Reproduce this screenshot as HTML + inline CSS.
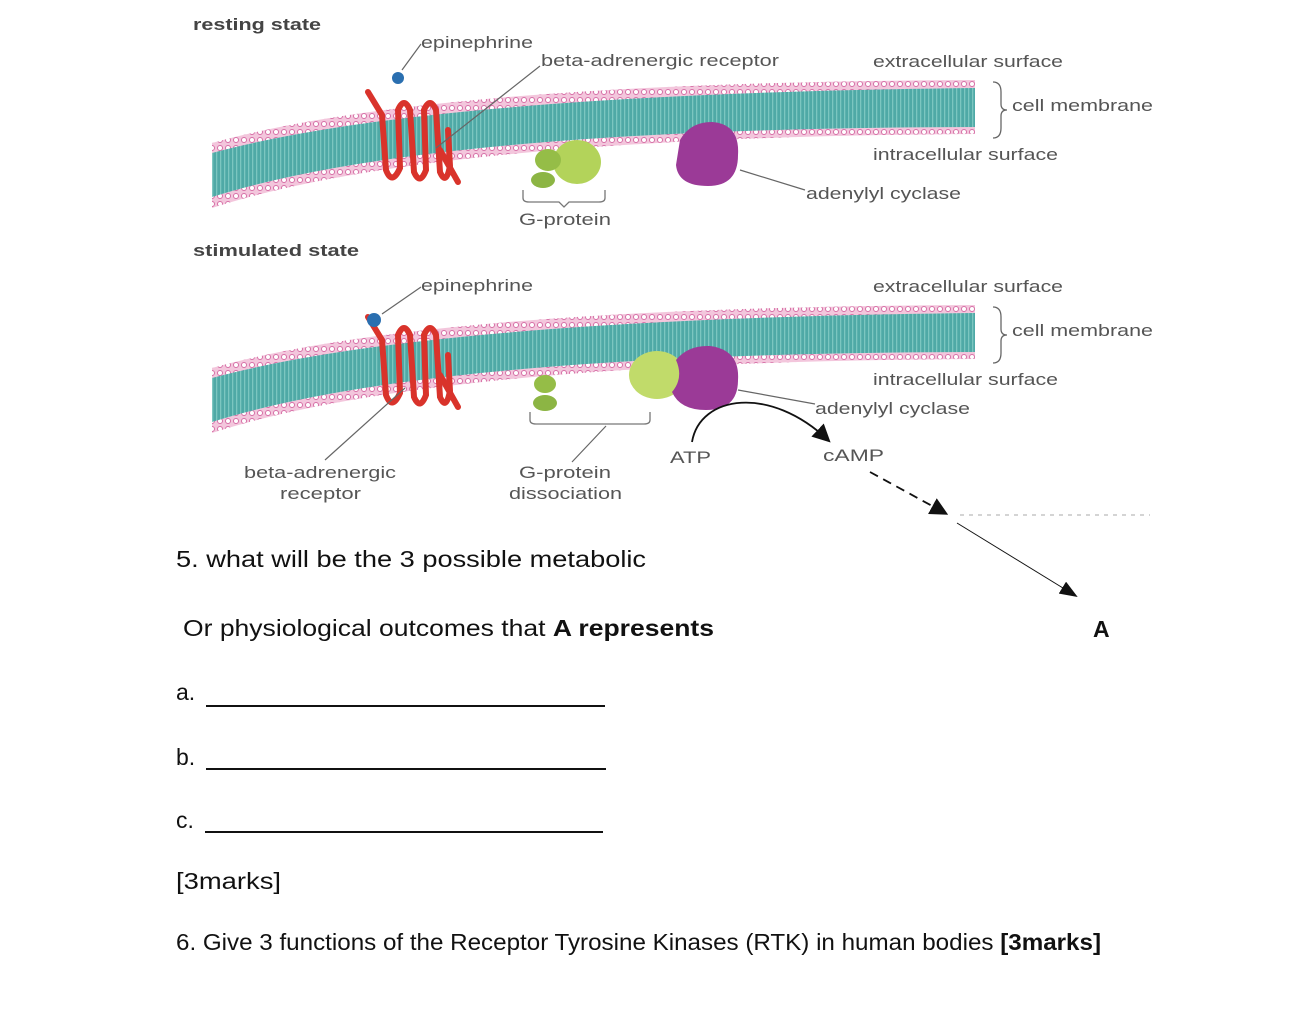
<!DOCTYPE html>
<html><head><meta charset="utf-8"><style>
html,body{margin:0;padding:0;background:#fff;width:1308px;height:1024px;overflow:hidden}
svg{display:block}
.d{font-family:"Liberation Sans",sans-serif;font-size:17px;fill:#555}
.b{font-family:"Liberation Sans",sans-serif;font-size:17px;font-weight:bold;fill:#444}
.q{font-family:"Liberation Sans",sans-serif;font-size:23px;fill:#111}
</style></head><body>
<svg width="1308" height="1024" viewBox="0 0 1308 1024" xmlns="http://www.w3.org/2000/svg">
<defs>
<pattern id="dots" width="8" height="8" patternUnits="userSpaceOnUse"><rect width="8" height="8" fill="#f3c6dc"/><circle cx="4" cy="4" r="2.5" fill="#fff" stroke="#d66fa6" stroke-width="1"/></pattern>
<pattern id="tails" width="4" height="10" patternUnits="userSpaceOnUse"><rect width="4" height="10" fill="#4fa9a6"/><rect width="1.3" height="10" fill="#7cc6c0"/></pattern>
<marker id="ah" markerWidth="10" markerHeight="10" refX="8" refY="5" orient="auto"><path d="M0,0 L10,5 L0,10 z" fill="#111"/></marker>
<marker id="ah2" markerWidth="18" markerHeight="14" refX="16" refY="7" orient="auto" markerUnits="userSpaceOnUse"><path d="M0,0 L18,7 L0,14 z" fill="#111"/></marker>
<g id="mem">
<path d="M212,143 Q430,82 975,80 L975,134 Q430,137 212,208 Z" fill="url(#dots)"/>
<path d="M212,153 Q430,94 975,88 L975,127 Q430,128 212,197 Z" fill="url(#tails)"/>
<g fill="none" stroke="#d9332b" stroke-width="6" stroke-linecap="round">
<path d="M368,92 L382,115 L386,170 Q392,186 400,168 L398,110 Q404,96 410,110 L414,172 Q420,186 426,170 L424,110 Q430,96 436,110 L440,172 Q446,186 450,166 L448,130"/>
<path d="M440,150 L458,182"/>
</g>
<path d="M993,82 q8,0 8,10 v12 q0,6 6,6 q-6,0 -6,6 v12 q0,10 -8,10" fill="none" stroke="#666" stroke-width="1.3"/>
</g>
</defs>

<!-- RESTING -->
<text x="193" y="30" class="b" textLength="128" lengthAdjust="spacingAndGlyphs">resting state</text>
<use href="#mem"/>
<circle cx="398" cy="78" r="6" fill="#2a6fb0"/>
<line x1="402" y1="70" x2="421" y2="44" stroke="#666" stroke-width="1.2"/>
<text x="421" y="48" class="d" textLength="112" lengthAdjust="spacingAndGlyphs">epinephrine</text>
<line x1="436" y1="148" x2="540" y2="66" stroke="#666" stroke-width="1.2"/>
<text x="541" y="66" class="d" textLength="238" lengthAdjust="spacingAndGlyphs">beta-adrenergic receptor</text>
<text x="873" y="67" class="d" textLength="190" lengthAdjust="spacingAndGlyphs">extracellular surface</text>
<text x="1012" y="111" class="d" textLength="141" lengthAdjust="spacingAndGlyphs">cell membrane</text>
<text x="873" y="160" class="d" textLength="185" lengthAdjust="spacingAndGlyphs">intracellular surface</text>
<ellipse cx="577" cy="162" rx="24" ry="22" fill="#b3d35a"/>
<ellipse cx="548" cy="160" rx="13" ry="11" fill="#95bd47"/>
<ellipse cx="543" cy="180" rx="12" ry="8" fill="#8cb544"/>
<path d="M523,190 v8 q0,4 6,4 h30 l5,5 l5,-5 h30 q6,0 6,-4 v-8" fill="none" stroke="#777" stroke-width="1.3"/>
<text x="519" y="225" class="d" textLength="92" lengthAdjust="spacingAndGlyphs">G-protein</text>
<path d="M680,140 Q690,122 712,122 Q740,124 738,155 Q738,186 708,186 Q678,186 676,165 Z" fill="#9b3a97"/>
<line x1="740" y1="170" x2="805" y2="190" stroke="#666" stroke-width="1.2"/>
<text x="806" y="199" class="d" textLength="155" lengthAdjust="spacingAndGlyphs">adenylyl cyclase</text>

<!-- STIMULATED -->
<text x="193" y="256" class="b" textLength="166" lengthAdjust="spacingAndGlyphs">stimulated state</text>
<use href="#mem" transform="translate(0,225)"/>
<circle cx="374" cy="320" r="7" fill="#2a6fb0"/>
<line x1="382" y1="314" x2="421" y2="287" stroke="#666" stroke-width="1.2"/>
<text x="421" y="291" class="d" textLength="112" lengthAdjust="spacingAndGlyphs">epinephrine</text>
<text x="873" y="292" class="d" textLength="190" lengthAdjust="spacingAndGlyphs">extracellular surface</text>
<text x="1012" y="336" class="d" textLength="141" lengthAdjust="spacingAndGlyphs">cell membrane</text>
<text x="873" y="385" class="d" textLength="185" lengthAdjust="spacingAndGlyphs">intracellular surface</text>
<ellipse cx="545" cy="384" rx="11" ry="9" fill="#95bd47"/>
<ellipse cx="545" cy="403" rx="12" ry="8" fill="#8cb544"/>
<ellipse cx="657" cy="375" rx="28" ry="24" fill="#c1db6a"/>
<path d="M676,360 Q688,345 710,346 Q740,350 738,380 Q738,410 706,410 Q680,410 672,392 Q684,378 676,360 Z" fill="#9b3a97"/>
<path d="M530,412 v8 q0,4 6,4 h108 q6,0 6,-4 v-8" fill="none" stroke="#777" stroke-width="1.3"/>
<line x1="606" y1="426" x2="572" y2="462" stroke="#666" stroke-width="1.2"/>
<text x="519" y="478" class="d" textLength="92" lengthAdjust="spacingAndGlyphs">G-protein</text>
<text x="509" y="499" class="d" textLength="113" lengthAdjust="spacingAndGlyphs">dissociation</text>
<line x1="405" y1="388" x2="325" y2="460" stroke="#666" stroke-width="1.2"/>
<text x="244" y="478" class="d" textLength="152" lengthAdjust="spacingAndGlyphs">beta-adrenergic</text>
<text x="280" y="499" class="d" textLength="81" lengthAdjust="spacingAndGlyphs">receptor</text>
<line x1="738" y1="390" x2="815" y2="404" stroke="#666" stroke-width="1.2"/>
<text x="815" y="414" class="d" textLength="155" lengthAdjust="spacingAndGlyphs">adenylyl cyclase</text>
<text x="670" y="463" class="d" textLength="41" lengthAdjust="spacingAndGlyphs">ATP</text>
<text x="823" y="461" class="d" textLength="61" lengthAdjust="spacingAndGlyphs">cAMP</text>
<path d="M692,442 C700,395 770,385 828,440" fill="none" stroke="#111" stroke-width="1.8" marker-end="url(#ah)"/>
<line x1="870" y1="472" x2="945" y2="513" stroke="#111" stroke-width="1.8" stroke-dasharray="9,6" marker-end="url(#ah)"/>
<line x1="960" y1="515" x2="1150" y2="515" stroke="#bbb" stroke-width="1.2" stroke-dasharray="4,5"/>
<line x1="957" y1="523" x2="1076" y2="596" stroke="#111" stroke-width="1" marker-end="url(#ah2)"/>

<!-- QUESTIONS -->
<text x="176" y="567" class="q" textLength="470" lengthAdjust="spacingAndGlyphs">5. what will be the 3 possible metabolic</text>
<text x="183" y="636" class="q" textLength="531" lengthAdjust="spacingAndGlyphs">Or physiological outcomes that <tspan font-weight="bold">A represents</tspan></text>
<text x="1093" y="637" class="q" font-weight="bold" font-size="30">A</text>
<text x="176" y="700" class="q">a.</text>
<line x1="206" y1="706" x2="605" y2="706" stroke="#111" stroke-width="2"/>
<text x="176" y="765" class="q">b.</text>
<line x1="206" y1="769" x2="606" y2="769" stroke="#111" stroke-width="2"/>
<text x="176" y="828" class="q">c.</text>
<line x1="205" y1="832" x2="603" y2="832" stroke="#111" stroke-width="2"/>
<text x="176" y="889" class="q" textLength="105" lengthAdjust="spacingAndGlyphs">[3marks]</text>
<text x="176" y="950" class="q" textLength="925" lengthAdjust="spacingAndGlyphs">6. Give 3 functions of the Receptor Tyrosine Kinases (RTK) in human bodies <tspan font-weight="bold">[3marks]</tspan></text>
</svg>
</body></html>
